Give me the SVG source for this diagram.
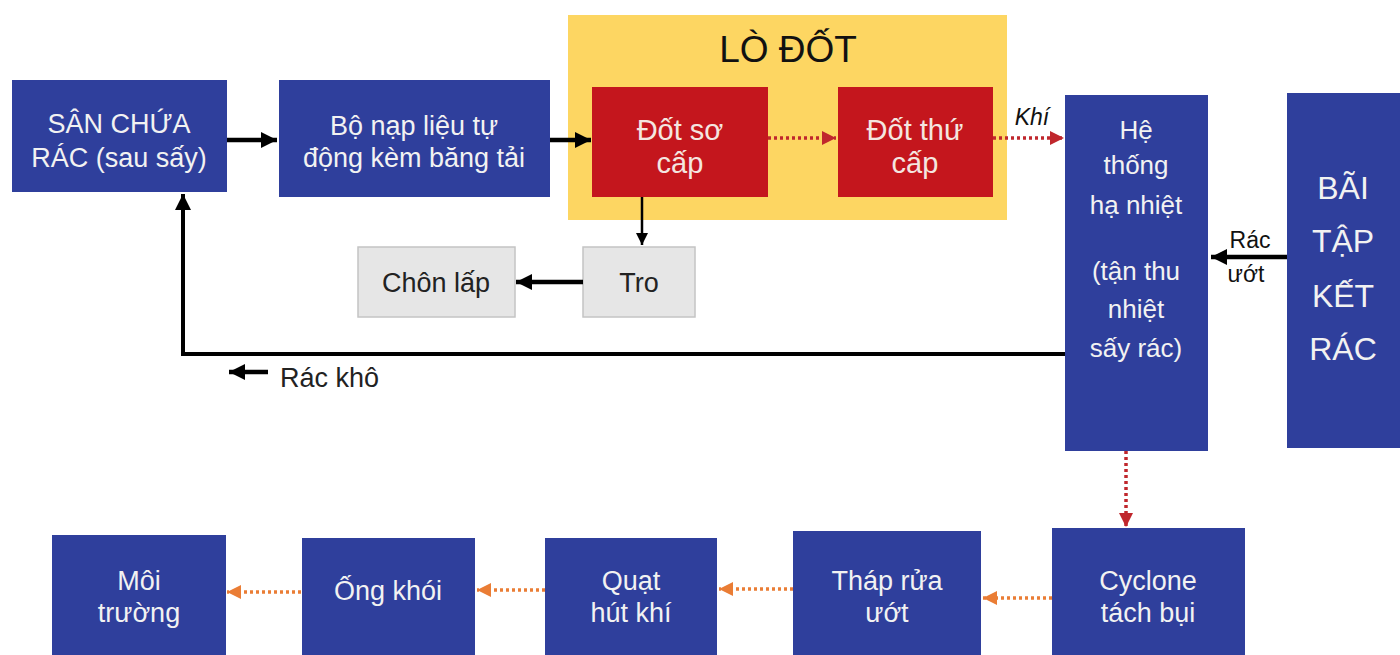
<svg xmlns="http://www.w3.org/2000/svg" width="1400" height="655" viewBox="0 0 1400 655">
<style>
.blue{fill:#2f3f9c}
.red{fill:#c4161d}
.gray{fill:#e6e6e6;stroke:#c4c4c4;stroke-width:1.5}
text{font-family:"Liberation Sans",Arial,sans-serif;text-anchor:middle}
.wt{fill:#f2f2f2;font-size:27px}
.rt{fill:#f4e6e0;font-size:29px}
.bt{fill:#222;font-size:27px}
.blk{stroke:#000;fill:none}
.rd{stroke:#c0272d;stroke-width:3.5;stroke-dasharray:3 3;fill:none}
.or{stroke:#ea7d35;stroke-width:3.5;stroke-dasharray:3 3;fill:none}
</style>
<defs>
<marker id="ab" markerUnits="userSpaceOnUse" viewBox="0 0 10 10" refX="10" refY="5" markerWidth="16" markerHeight="16" orient="auto"><path d="M0,0 L10,5 L0,10 z" fill="#000"/></marker>
<marker id="abs" markerUnits="userSpaceOnUse" viewBox="0 0 10 10" refX="10" refY="5" markerWidth="12" markerHeight="12" orient="auto"><path d="M0,0 L10,5 L0,10 z" fill="#000"/></marker>
<marker id="ar" markerUnits="userSpaceOnUse" viewBox="0 0 10 10" refX="10" refY="5" markerWidth="14" markerHeight="14" orient="auto"><path d="M0,0 L10,5 L0,10 z" fill="#c0272d"/></marker>
<marker id="ao" markerUnits="userSpaceOnUse" viewBox="0 0 10 10" refX="10" refY="5" markerWidth="14" markerHeight="14" orient="auto"><path d="M0,0 L10,5 L0,10 z" fill="#ea7d35"/></marker>
</defs>
<rect width="1400" height="655" fill="#fff"/>

<g id="lo-dot">
<rect x="568" y="15" width="439" height="205" fill="#fdd662"/>
<text x="788" y="62" style="font-size:37px;fill:#111">LÒ ĐỐT</text>
</g>

<g id="san-chua">
<rect class="blue" x="12" y="80" width="215" height="112"/>
<text class="wt" x="119" y="133">SÂN CHỨA</text>
<text class="wt" x="119" y="167">RÁC (sau sấy)</text>
</g>

<g id="bo-nap">
<rect class="blue" x="279" y="80" width="271" height="117"/>
<text class="wt" x="414" y="135">Bộ nạp liệu tự</text>
<text class="wt" x="414" y="167">động kèm băng tải</text>
</g>

<g id="dot-so-cap">
<rect class="red" x="592" y="87" width="176" height="110"/>
<text class="rt" x="680" y="140">Đốt sơ</text>
<text class="rt" x="680" y="173">cấp</text>
</g>

<g id="dot-thu-cap">
<rect class="red" x="838" y="87" width="155" height="110"/>
<text class="rt" x="915" y="140">Đốt thứ</text>
<text class="rt" x="915" y="173">cấp</text>
</g>

<g id="he-thong">
<rect class="blue" x="1065" y="95" width="143" height="356"/>
<text class="wt" x="1136" y="139" style="font-size:26px">Hệ</text>
<text class="wt" x="1136" y="174" style="font-size:26px">thống</text>
<text class="wt" x="1136" y="214" style="font-size:26px">hạ nhiệt</text>
<text class="wt" x="1136" y="280" style="font-size:26px">(tận thu</text>
<text class="wt" x="1136" y="318" style="font-size:26px">nhiệt</text>
<text class="wt" x="1136" y="357" style="font-size:26px">sấy rác)</text>
</g>

<g id="bai-tap-ket">
<rect class="blue" x="1287" y="93" width="113" height="355"/>
<text class="wt" x="1343" y="199" style="font-size:32px">BÃI</text>
<text class="wt" x="1343" y="252" style="font-size:32px">TẬP</text>
<text class="wt" x="1343" y="307" style="font-size:32px">KẾT</text>
<text class="wt" x="1343" y="360" style="font-size:32px">RÁC</text>
</g>

<g id="chon-lap">
<rect class="gray" x="358" y="247" width="157" height="70"/>
<text class="bt" x="436" y="292">Chôn lấp</text>
</g>

<g id="tro">
<rect class="gray" x="583" y="247" width="112" height="70"/>
<text class="bt" x="639" y="292">Tro</text>
</g>

<g id="moi-truong">
<rect class="blue" x="52" y="535" width="174" height="120"/>
<text class="wt" x="139" y="590">Môi</text>
<text class="wt" x="139" y="622">trường</text>
</g>

<g id="ong-khoi">
<rect class="blue" x="302" y="538" width="173" height="117"/>
<text class="wt" x="388" y="600">Ống khói</text>
</g>

<g id="quat">
<rect class="blue" x="545" y="538" width="172" height="117"/>
<text class="wt" x="631" y="590">Quạt</text>
<text class="wt" x="631" y="622">hút khí</text>
</g>

<g id="thap-rua">
<rect class="blue" x="793" y="531" width="188" height="124"/>
<text class="wt" x="887" y="590">Tháp rửa</text>
<text class="wt" x="887" y="622">ướt</text>
</g>

<g id="cyclone">
<rect class="blue" x="1052" y="528" width="193" height="127"/>
<text class="wt" x="1148" y="590">Cyclone</text>
<text class="wt" x="1148" y="622">tách bụi</text>
</g>

<g id="connectors">
<line class="blk" x1="227" y1="140" x2="277" y2="140" stroke-width="4.5" marker-end="url(#ab)"/>
<line class="blk" x1="550" y1="140" x2="591" y2="140" stroke-width="4.5" marker-end="url(#ab)"/>
<line class="blk" x1="642" y1="197" x2="642" y2="245" stroke-width="2.5" marker-end="url(#abs)"/>
<line class="blk" x1="583" y1="282" x2="516" y2="282" stroke-width="4.5" marker-end="url(#ab)"/>
<polyline class="blk" points="1065,354 183,354 183,194" stroke-width="4" marker-end="url(#ab)"/>
<line class="blk" x1="268" y1="372" x2="229" y2="372" stroke-width="4.5" marker-end="url(#ab)"/>
<line class="blk" x1="1287" y1="257" x2="1211" y2="257" stroke-width="4.5" marker-end="url(#ab)"/>
<line class="rd" x1="768" y1="138" x2="836" y2="138" marker-end="url(#ar)"/>
<line class="rd" x1="993" y1="138" x2="1064" y2="138" marker-end="url(#ar)"/>
<line class="rd" x1="1126" y1="451" x2="1126" y2="527" marker-end="url(#ar)"/>
<line class="or" x1="1052" y1="598" x2="983" y2="598" marker-end="url(#ao)"/>
<line class="or" x1="793" y1="589" x2="719" y2="589" marker-end="url(#ao)"/>
<line class="or" x1="545" y1="590" x2="477" y2="590" marker-end="url(#ao)"/>
<line class="or" x1="301" y1="592" x2="227" y2="592" marker-end="url(#ao)"/>
<text x="1032" y="125" style="font-size:23px;font-style:italic;fill:#111">Khí</text>
<text x="1250" y="248" style="font-size:23px;fill:#111">Rác</text>
<text x="1246" y="282" style="font-size:23px;fill:#111">ướt</text>
<text x="280" y="387" style="font-size:27px;fill:#222;text-anchor:start">Rác khô</text>
</g>
</svg>
